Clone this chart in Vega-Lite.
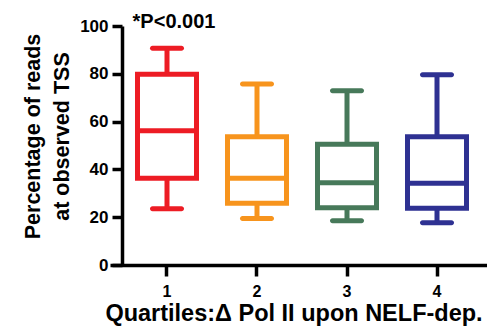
{
  "$schema": "https://vega.github.io/schema/vega-lite/v6.json",
  "width": 377,
  "height": 239,
  "autosize": {"type": "none"},
  "padding": {"left": 110, "top": 26, "right": 0, "bottom": 65},
  "background": "white",
  "config": {
    "view": {"stroke": null},
    "font": "Liberation Sans",
    "axis": {
      "grid": false,
      "domainColor": "black",
      "domainWidth": 3.5,
      "tickColor": "black",
      "tickWidth": 3.5,
      "tickSize": 10,
      "labelFont": "Liberation Sans",
      "labelFontWeight": "bold",
      "labelFontSize": 17,
      "labelColor": "black",
      "titleFont": "Liberation Sans",
      "titleFontWeight": "bold",
      "titleColor": "black"
    }
  },
  "datasets": {
    "boxes": [
      {"q": "1", "min": 23.5, "q1": 36.3, "median": 56.2, "q3": 79.8, "max": 90.7},
      {"q": "2", "min": 19.5, "q1": 25.8, "median": 36.3, "q3": 53.7, "max": 75.7},
      {"q": "3", "min": 18.5, "q1": 24.0, "median": 34.4, "q3": 50.5, "max": 72.9},
      {"q": "4", "min": 17.7, "q1": 23.7, "median": 34.2, "q3": 53.7, "max": 79.6}
    ],
    "note": [
      {"q": "1", "y": 101.7, "label": "*P<0.001"}
    ]
  },
  "encoding": {
    "x": {
      "field": "q",
      "type": "nominal",
      "scale": {"type": "band", "paddingInner": 0, "paddingOuter": 0.0944, "align": 0.706},
      "axis": {
        "title": "Quartiles:Δ Pol II upon NELF-dep.",
        "titleFontSize": 23.5,
        "titlePadding": 2,
        "titleX": 183.5,
        "titleAlign": "center",
        "labelAngle": 0,
        "labelFontSize": 16,
        "labelPadding": 7,
        "tickSize": 11
      }
    }
  },
  "layer": [
    {
      "data": {"name": "boxes"},
      "mark": {"type": "rule", "strokeWidth": 5},
      "encoding": {
        "y": {
          "field": "min",
          "type": "quantitative",
          "scale": {"domain": [0, 100], "nice": false},
          "axis": {
            "title": ["Percentage of reads", "at observed TSS"],
            "values": [0, 20, 40, 60, 80, 100],
            "offset": -12,
            "labelPadding": 4,
            "titleFontSize": 21.5,
            "titleAngle": -90,
            "titleBaseline": "middle",
            "titleAlign": "center",
            "titleLineHeight": 29,
            "titleX": -89,
            "titleY": 110
          }
        },
        "y2": {"field": "max"},
        "color": {
          "field": "q",
          "type": "nominal",
          "scale": {"domain": ["1", "2", "3", "4"], "range": ["#ED1C24", "#F7941D", "#47795A", "#2E3192"]},
          "legend": null
        }
      }
    },
    {
      "data": {"name": "boxes"},
      "mark": {"type": "bar", "size": 59, "strokeWidth": 5, "fill": "white"},
      "encoding": {
        "y": {"field": "q1", "type": "quantitative"},
        "y2": {"field": "q3"},
        "stroke": {"field": "q", "type": "nominal", "scale": {"domain": ["1", "2", "3", "4"], "range": ["#ED1C24", "#F7941D", "#47795A", "#2E3192"]}, "legend": null}
      }
    },
    {
      "data": {"name": "boxes"},
      "mark": {"type": "tick", "size": 59, "thickness": 5, "opacity": 1},
      "encoding": {
        "y": {"field": "median", "type": "quantitative"},
        "color": {"field": "q", "type": "nominal", "legend": null}
      }
    },
    {
      "data": {"name": "boxes"},
      "mark": {"type": "tick", "size": 34, "thickness": 5, "cornerRadius": 2.5, "opacity": 1},
      "encoding": {
        "y": {"field": "max", "type": "quantitative"},
        "color": {"field": "q", "type": "nominal", "legend": null}
      }
    },
    {
      "data": {"name": "boxes"},
      "mark": {"type": "tick", "size": 34, "thickness": 5, "cornerRadius": 2.5, "opacity": 1},
      "encoding": {
        "y": {"field": "min", "type": "quantitative"},
        "color": {"field": "q", "type": "nominal", "legend": null}
      }
    },
    {
      "data": {"name": "note"},
      "mark": {"type": "text", "align": "center", "baseline": "middle", "dx": 7, "fontSize": 20, "fontWeight": "bold", "font": "Liberation Sans", "color": "black"},
      "encoding": {
        "y": {"field": "y", "type": "quantitative"},
        "text": {"field": "label"}
      }
    }
  ]
}
